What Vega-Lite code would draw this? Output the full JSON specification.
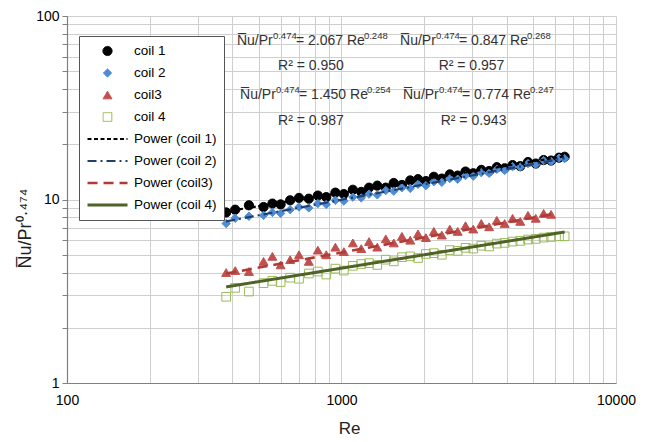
{
  "$schema": "https://vega.github.io/schema/vega-lite/v6.json",
  "width": 549,
  "height": 367,
  "autosize": {"type": "none"},
  "padding": {"left": 67, "top": 16, "right": 30, "bottom": 59},
  "background": "white",
  "config": {
    "view": {"stroke": null},
    "font": "Liberation Sans",
    "legend": {
      "orient": "none",
      "legendX": 12,
      "legendY": 20,
      "padding": 7,
      "strokeColor": "#555555",
      "fillColor": "white",
      "labelFont": "Liberation Sans",
      "labelFontSize": 13.5,
      "labelColor": "black",
      "labelOffset": 5,
      "symbolOffset": 0,
      "rowPadding": 6,
      "clipHeight": 16,
      "labelLimit": 200
    }
  },
  "datasets": {
    "pts": [
      {"series": "coil 1", "Re": 380, "Nu": 8.5}, {"series": "coil 1", "Re": 410, "Nu": 8.8}, {"series": "coil 1", "Re": 460, "Nu": 9.3}, {"series": "coil 1", "Re": 520, "Nu": 9.1}, {"series": "coil 1", "Re": 560, "Nu": 9.5}, {"series": "coil 1", "Re": 600, "Nu": 9.4}, {"series": "coil 1", "Re": 650, "Nu": 9.9}, {"series": "coil 1", "Re": 700, "Nu": 10.2}, {"series": "coil 1", "Re": 760, "Nu": 10.1}, {"series": "coil 1", "Re": 820, "Nu": 10.5}, {"series": "coil 1", "Re": 880, "Nu": 10.3}, {"series": "coil 1", "Re": 950, "Nu": 10.9}, {"series": "coil 1", "Re": 1020, "Nu": 10.7}, {"series": "coil 1", "Re": 1100, "Nu": 11.3}, {"series": "coil 1", "Re": 1180, "Nu": 11.0}, {"series": "coil 1", "Re": 1260, "Nu": 11.6}, {"series": "coil 1", "Re": 1350, "Nu": 11.9}, {"series": "coil 1", "Re": 1450, "Nu": 11.6}, {"series": "coil 1", "Re": 1550, "Nu": 12.3}, {"series": "coil 1", "Re": 1660, "Nu": 12.0}, {"series": "coil 1", "Re": 1780, "Nu": 12.7}, {"series": "coil 1", "Re": 1900, "Nu": 12.9}, {"series": "coil 1", "Re": 2030, "Nu": 12.6}, {"series": "coil 1", "Re": 2170, "Nu": 13.3}, {"series": "coil 1", "Re": 2320, "Nu": 13.0}, {"series": "coil 1", "Re": 2480, "Nu": 13.7}, {"series": "coil 1", "Re": 2650, "Nu": 13.5}, {"series": "coil 1", "Re": 2830, "Nu": 14.2}, {"series": "coil 1", "Re": 3020, "Nu": 13.9}, {"series": "coil 1", "Re": 3230, "Nu": 14.5}, {"series": "coil 1", "Re": 3450, "Nu": 14.3}, {"series": "coil 1", "Re": 3680, "Nu": 15.0}, {"series": "coil 1", "Re": 3930, "Nu": 14.8}, {"series": "coil 1", "Re": 4200, "Nu": 15.4}, {"series": "coil 1", "Re": 4480, "Nu": 15.2}, {"series": "coil 1", "Re": 4780, "Nu": 16.0}, {"series": "coil 1", "Re": 5100, "Nu": 15.7}, {"series": "coil 1", "Re": 5450, "Nu": 16.4}, {"series": "coil 1", "Re": 5800, "Nu": 16.3}, {"series": "coil 1", "Re": 6200, "Nu": 16.9}, {"series": "coil 1", "Re": 6500, "Nu": 17.1},
      {"series": "coil 2", "Re": 380, "Nu": 7.4}, {"series": "coil 2", "Re": 410, "Nu": 7.9}, {"series": "coil 2", "Re": 460, "Nu": 8.1}, {"series": "coil 2", "Re": 520, "Nu": 8.2}, {"series": "coil 2", "Re": 560, "Nu": 8.5}, {"series": "coil 2", "Re": 600, "Nu": 8.4}, {"series": "coil 2", "Re": 650, "Nu": 8.8}, {"series": "coil 2", "Re": 700, "Nu": 9.1}, {"series": "coil 2", "Re": 760, "Nu": 9.0}, {"series": "coil 2", "Re": 820, "Nu": 9.5}, {"series": "coil 2", "Re": 880, "Nu": 9.4}, {"series": "coil 2", "Re": 950, "Nu": 9.9}, {"series": "coil 2", "Re": 1020, "Nu": 9.8}, {"series": "coil 2", "Re": 1100, "Nu": 10.3}, {"series": "coil 2", "Re": 1180, "Nu": 10.2}, {"series": "coil 2", "Re": 1260, "Nu": 10.7}, {"series": "coil 2", "Re": 1350, "Nu": 10.6}, {"series": "coil 2", "Re": 1450, "Nu": 11.2}, {"series": "coil 2", "Re": 1550, "Nu": 11.1}, {"series": "coil 2", "Re": 1660, "Nu": 11.6}, {"series": "coil 2", "Re": 1780, "Nu": 11.5}, {"series": "coil 2", "Re": 1900, "Nu": 12.1}, {"series": "coil 2", "Re": 2030, "Nu": 11.9}, {"series": "coil 2", "Re": 2170, "Nu": 12.5}, {"series": "coil 2", "Re": 2320, "Nu": 12.4}, {"series": "coil 2", "Re": 2480, "Nu": 13.0}, {"series": "coil 2", "Re": 2650, "Nu": 12.9}, {"series": "coil 2", "Re": 2830, "Nu": 13.5}, {"series": "coil 2", "Re": 3020, "Nu": 13.4}, {"series": "coil 2", "Re": 3230, "Nu": 14.0}, {"series": "coil 2", "Re": 3450, "Nu": 13.9}, {"series": "coil 2", "Re": 3680, "Nu": 14.6}, {"series": "coil 2", "Re": 3930, "Nu": 14.4}, {"series": "coil 2", "Re": 4200, "Nu": 15.1}, {"series": "coil 2", "Re": 4480, "Nu": 15.0}, {"series": "coil 2", "Re": 4780, "Nu": 15.7}, {"series": "coil 2", "Re": 5100, "Nu": 15.5}, {"series": "coil 2", "Re": 5450, "Nu": 16.3}, {"series": "coil 2", "Re": 5800, "Nu": 16.1}, {"series": "coil 2", "Re": 6200, "Nu": 16.8}, {"series": "coil 2", "Re": 6500, "Nu": 16.7},
      {"series": "coil3", "Re": 380, "Nu": 4.0}, {"series": "coil3", "Re": 410, "Nu": 4.1}, {"series": "coil3", "Re": 460, "Nu": 4.05}, {"series": "coil3", "Re": 520, "Nu": 4.6}, {"series": "coil3", "Re": 560, "Nu": 4.9}, {"series": "coil3", "Re": 600, "Nu": 4.4}, {"series": "coil3", "Re": 650, "Nu": 4.7}, {"series": "coil3", "Re": 700, "Nu": 5.0}, {"series": "coil3", "Re": 760, "Nu": 4.6}, {"series": "coil3", "Re": 820, "Nu": 5.3}, {"series": "coil3", "Re": 880, "Nu": 5.0}, {"series": "coil3", "Re": 950, "Nu": 5.5}, {"series": "coil3", "Re": 1020, "Nu": 5.2}, {"series": "coil3", "Re": 1100, "Nu": 5.8}, {"series": "coil3", "Re": 1180, "Nu": 5.4}, {"series": "coil3", "Re": 1260, "Nu": 5.9}, {"series": "coil3", "Re": 1350, "Nu": 5.5}, {"series": "coil3", "Re": 1450, "Nu": 6.1}, {"series": "coil3", "Re": 1550, "Nu": 5.8}, {"series": "coil3", "Re": 1660, "Nu": 6.3}, {"series": "coil3", "Re": 1780, "Nu": 6.0}, {"series": "coil3", "Re": 1900, "Nu": 6.5}, {"series": "coil3", "Re": 2030, "Nu": 6.2}, {"series": "coil3", "Re": 2170, "Nu": 6.7}, {"series": "coil3", "Re": 2320, "Nu": 6.4}, {"series": "coil3", "Re": 2480, "Nu": 6.9}, {"series": "coil3", "Re": 2650, "Nu": 6.7}, {"series": "coil3", "Re": 2830, "Nu": 7.2}, {"series": "coil3", "Re": 3020, "Nu": 6.9}, {"series": "coil3", "Re": 3230, "Nu": 7.4}, {"series": "coil3", "Re": 3450, "Nu": 7.1}, {"series": "coil3", "Re": 3680, "Nu": 7.7}, {"series": "coil3", "Re": 3930, "Nu": 7.4}, {"series": "coil3", "Re": 4200, "Nu": 7.9}, {"series": "coil3", "Re": 4480, "Nu": 7.6}, {"series": "coil3", "Re": 4780, "Nu": 8.2}, {"series": "coil3", "Re": 5100, "Nu": 7.9}, {"series": "coil3", "Re": 5450, "Nu": 8.4}, {"series": "coil3", "Re": 5800, "Nu": 8.3},
      {"series": "coil 4", "Re": 380, "Nu": 2.95}, {"series": "coil 4", "Re": 410, "Nu": 3.3}, {"series": "coil 4", "Re": 460, "Nu": 3.15}, {"series": "coil 4", "Re": 520, "Nu": 3.5}, {"series": "coil 4", "Re": 560, "Nu": 3.6}, {"series": "coil 4", "Re": 600, "Nu": 3.55}, {"series": "coil 4", "Re": 650, "Nu": 3.75}, {"series": "coil 4", "Re": 700, "Nu": 3.7}, {"series": "coil 4", "Re": 760, "Nu": 3.95}, {"series": "coil 4", "Re": 820, "Nu": 4.05}, {"series": "coil 4", "Re": 880, "Nu": 3.9}, {"series": "coil 4", "Re": 950, "Nu": 4.2}, {"series": "coil 4", "Re": 1020, "Nu": 4.1}, {"series": "coil 4", "Re": 1100, "Nu": 4.35}, {"series": "coil 4", "Re": 1180, "Nu": 4.45}, {"series": "coil 4", "Re": 1260, "Nu": 4.5}, {"series": "coil 4", "Re": 1350, "Nu": 4.4}, {"series": "coil 4", "Re": 1450, "Nu": 4.7}, {"series": "coil 4", "Re": 1550, "Nu": 4.6}, {"series": "coil 4", "Re": 1660, "Nu": 4.85}, {"series": "coil 4", "Re": 1780, "Nu": 4.9}, {"series": "coil 4", "Re": 1900, "Nu": 4.8}, {"series": "coil 4", "Re": 2030, "Nu": 5.05}, {"series": "coil 4", "Re": 2170, "Nu": 5.1}, {"series": "coil 4", "Re": 2320, "Nu": 5.0}, {"series": "coil 4", "Re": 2480, "Nu": 5.3}, {"series": "coil 4", "Re": 2650, "Nu": 5.25}, {"series": "coil 4", "Re": 2830, "Nu": 5.45}, {"series": "coil 4", "Re": 3020, "Nu": 5.4}, {"series": "coil 4", "Re": 3230, "Nu": 5.6}, {"series": "coil 4", "Re": 3450, "Nu": 5.55}, {"series": "coil 4", "Re": 3680, "Nu": 5.75}, {"series": "coil 4", "Re": 3930, "Nu": 5.8}, {"series": "coil 4", "Re": 4200, "Nu": 5.9}, {"series": "coil 4", "Re": 4480, "Nu": 5.95}, {"series": "coil 4", "Re": 4780, "Nu": 6.05}, {"series": "coil 4", "Re": 5100, "Nu": 6.1}, {"series": "coil 4", "Re": 5450, "Nu": 6.2}, {"series": "coil 4", "Re": 5800, "Nu": 6.25}, {"series": "coil 4", "Re": 6200, "Nu": 6.3}, {"series": "coil 4", "Re": 6500, "Nu": 6.3}
    ],
    "fits": [
      {"series": "Power (coil 1)", "Re": 380, "Nu": 8.6}, {"series": "Power (coil 1)", "Re": 6500, "Nu": 17.2},
      {"series": "Power (coil 2)", "Re": 380, "Nu": 7.6}, {"series": "Power (coil 2)", "Re": 6500, "Nu": 16.8},
      {"series": "Power (coil3)", "Re": 380, "Nu": 3.95}, {"series": "Power (coil3)", "Re": 5800, "Nu": 8.3},
      {"series": "Power (coil 4)", "Re": 380, "Nu": 3.34}, {"series": "Power (coil 4)", "Re": 6500, "Nu": 6.65}
    ],
    "eq": [
      {"Re": 416, "Nu": 73.1, "lhs": "N\u0305u/Pr", "e1": "0.474", "rhs": "= 2.067 Re", "e2": "0.248"},
      {"Re": 427, "Nu": 37.1, "lhs": "N\u0305u/Pr", "e1": "0.474", "rhs": "= 1.450 Re", "e2": "0.254"},
      {"Re": 1634, "Nu": 73.1, "lhs": "N\u0305u/Pr", "e1": "0.474", "rhs": "= 0.847 Re", "e2": "0.268"},
      {"Re": 1675, "Nu": 37.1, "lhs": "N\u0305u/Pr", "e1": "0.474", "rhs": "= 0.774 Re", "e2": "0.247"}
    ],
    "r2": [
      {"Re": 774, "Nu": 53.7, "label": "R² = 0.950"},
      {"Re": 774, "Nu": 26.8, "label": "R² = 0.987"},
      {"Re": 2976, "Nu": 53.7, "label": "R² = 0.957"},
      {"Re": 3027, "Nu": 26.8, "label": "R² = 0.943"}
    ]
  },
  "layer": [
    {
      "data": {"name": "pts"},
      "mark": {"type": "point", "filled": true, "strokeWidth": 1, "opacity": 1},
      "encoding": {
        "x": {
          "field": "Re", "type": "quantitative",
          "scale": {"type": "log", "domain": [100, 10000], "nice": false},
          "axis": {
            "title": "Re",
            "titleFont": "Liberation Sans",
            "titleFontSize": 17,
            "titleFontWeight": "normal",
            "titleColor": "#222222",
            "titleX": 282,
            "titleY": 45,
            "titleBaseline": "middle",
            "titleAlign": "center",
            "values": [100, 200, 300, 400, 500, 600, 700, 800, 900, 1000, 2000, 3000, 4000, 5000, 6000, 7000, 8000, 9000, 10000],
            "format": "d",
            "labelExpr": "indexof(['100','1000','10000'], datum.label) >= 0 ? datum.label : ''",
            "labelFont": "Liberation Sans",
            "labelFontSize": 14,
            "labelColor": "black",
            "labelPadding": 10,
            "labelFlush": false,
            "labelOverlap": false,
            "ticks": false,
            "grid": true,
            "gridColor": "#CFCFCF",
            "gridWidth": 1,
            "domainColor": "#7F7F7F",
            "domainWidth": 1.2
          }
        },
        "y": {
          "field": "Nu", "type": "quantitative",
          "scale": {"type": "log", "domain": [1, 100], "nice": false},
          "axis": {
            "title": "N\u0305u/Pr⁰·⁴⁷⁴",
            "titleFont": "Liberation Sans",
            "titleFontSize": 18,
            "titleFontWeight": "normal",
            "titleColor": "#222222",
            "titleX": -42,
            "titleY": 212,
            "titleAngle": -90,
            "titleBaseline": "middle",
            "titleAlign": "center",
            "values": [1, 2, 3, 4, 5, 6, 7, 8, 9, 10, 20, 30, 40, 50, 60, 70, 80, 90, 100],
            "format": "d",
            "labelExpr": "indexof(['1','10','100'], datum.label) >= 0 ? datum.label : ''",
            "labelFont": "Liberation Sans",
            "labelFontSize": 14,
            "labelColor": "black",
            "labelPadding": 3,
            "labelFlush": false,
            "labelOverlap": false,
            "ticks": true,
            "tickSize": 5,
            "tickColor": "#7F7F7F",
            "grid": true,
            "gridColor": "#CFCFCF",
            "gridWidth": 1,
            "domainColor": "#7F7F7F",
            "domainWidth": 1.2
          }
        },
        "shape": {
          "field": "series", "type": "nominal",
          "scale": {
            "domain": ["coil 1", "coil 2", "coil3", "coil 4", "Power (coil 1)", "Power (coil 2)", "Power (coil3)", "Power (coil 4)"],
            "range": ["circle", "diamond", "triangle-up", "square", "M-1,0L1,0", "M-1,0L1,0", "M-1,0L1,0", "M-1,0L1,0"]
          },
          "legend": {"title": null}
        },
        "fill": {
          "field": "series", "type": "nominal",
          "scale": {
            "domain": ["coil 1", "coil 2", "coil3", "coil 4", "Power (coil 1)", "Power (coil 2)", "Power (coil3)", "Power (coil 4)"],
            "range": ["#000000", "#4F8CD6", "#C0504D", "transparent", "transparent", "transparent", "transparent", "transparent"]
          },
          "legend": {"title": null}
        },
        "stroke": {
          "field": "series", "type": "nominal",
          "scale": {
            "domain": ["coil 1", "coil 2", "coil3", "coil 4", "Power (coil 1)", "Power (coil 2)", "Power (coil3)", "Power (coil 4)"],
            "range": ["#000000", "#4F8CD6", "#C0504D", "#9BBB59", "#000000", "#1F3F6E", "#B03A36", "#4F6228"]
          },
          "legend": {"title": null}
        },
        "size": {
          "field": "series", "type": "nominal",
          "scale": {
            "type": "ordinal",
            "domain": ["coil 1", "coil 2", "coil3", "coil 4", "Power (coil 1)", "Power (coil 2)", "Power (coil3)", "Power (coil 4)"],
            "range": [85, 70, 80, 75, 1600, 1600, 1600, 1600]
          },
          "legend": {"title": null}
        }
      }
    },
    {
      "data": {"name": "fits"},
      "mark": {"type": "line"},
      "encoding": {
        "x": {"field": "Re", "type": "quantitative"},
        "y": {"field": "Nu", "type": "quantitative"},
        "stroke": {"field": "series", "type": "nominal", "legend": {"title": null}},
        "strokeDash": {
          "field": "series", "type": "nominal",
          "scale": {
            "domain": ["coil 1", "coil 2", "coil3", "coil 4", "Power (coil 1)", "Power (coil 2)", "Power (coil3)", "Power (coil 4)"],
            "range": [[1, 0], [1, 0], [1, 0], [1, 0], [4, 2.5], [9, 4, 2, 4], [10, 6], [1, 0]]
          },
          "legend": {"title": null}
        },
        "strokeWidth": {
          "field": "series", "type": "nominal",
          "scale": {
            "type": "ordinal",
            "domain": ["coil 1", "coil 2", "coil3", "coil 4", "Power (coil 1)", "Power (coil 2)", "Power (coil3)", "Power (coil 4)"],
            "range": [1, 1, 1, 1, 2.2, 2.2, 2.6, 3]
          },
          "legend": {"title": null}
        }
      }
    },
    {
      "data": {"name": "eq"},
      "mark": {"type": "text", "align": "left", "baseline": "middle", "font": "Liberation Sans", "fontSize": 14, "color": "#333333"},
      "encoding": {
        "x": {"field": "Re", "type": "quantitative"},
        "y": {"field": "Nu", "type": "quantitative"},
        "text": {"field": "lhs"}
      }
    },
    {
      "data": {"name": "eq"},
      "mark": {"type": "text", "align": "left", "baseline": "middle", "font": "Liberation Sans", "fontSize": 9.5, "color": "#333333", "dx": 36, "dy": -5},
      "encoding": {
        "x": {"field": "Re", "type": "quantitative"},
        "y": {"field": "Nu", "type": "quantitative"},
        "text": {"field": "e1"}
      }
    },
    {
      "data": {"name": "eq"},
      "mark": {"type": "text", "align": "left", "baseline": "middle", "font": "Liberation Sans", "fontSize": 14, "color": "#333333", "dx": 59},
      "encoding": {
        "x": {"field": "Re", "type": "quantitative"},
        "y": {"field": "Nu", "type": "quantitative"},
        "text": {"field": "rhs"}
      }
    },
    {
      "data": {"name": "eq"},
      "mark": {"type": "text", "align": "left", "baseline": "middle", "font": "Liberation Sans", "fontSize": 9.5, "color": "#333333", "dx": 127, "dy": -5},
      "encoding": {
        "x": {"field": "Re", "type": "quantitative"},
        "y": {"field": "Nu", "type": "quantitative"},
        "text": {"field": "e2"}
      }
    },
    {
      "data": {"name": "r2"},
      "mark": {"type": "text", "align": "center", "baseline": "middle", "font": "Liberation Sans", "fontSize": 14, "color": "#333333"},
      "encoding": {
        "x": {"field": "Re", "type": "quantitative"},
        "y": {"field": "Nu", "type": "quantitative"},
        "text": {"field": "label"}
      }
    }
  ]
}
